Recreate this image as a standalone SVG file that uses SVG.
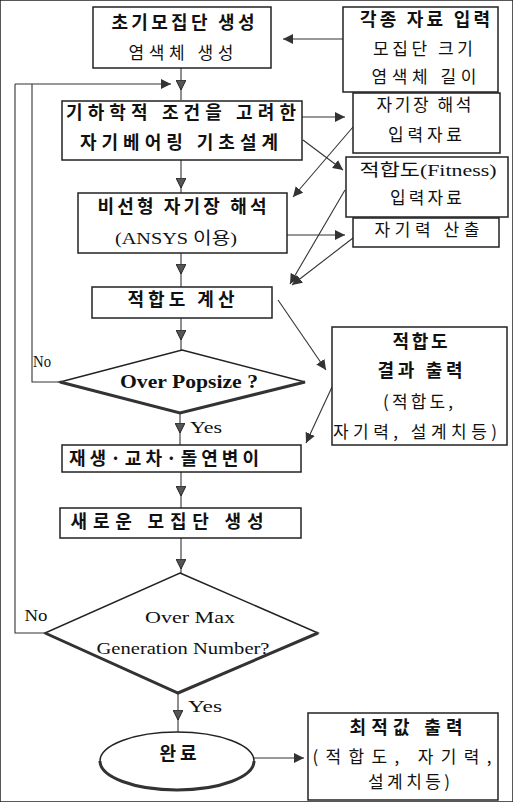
<svg xmlns="http://www.w3.org/2000/svg" width="513" height="802" viewBox="0 0 513 802">
<defs>
<marker id="ah" viewBox="0 0 10 10" refX="10" refY="5" markerWidth="10" markerHeight="10" markerUnits="userSpaceOnUse" orient="auto">
<path d="M0,0 L10,5 L0,10 z" fill="#333"/>
</marker>
<marker id="am" viewBox="0 0 10 10" refX="10" refY="5" markerWidth="10" markerHeight="10" markerUnits="userSpaceOnUse" orient="auto">
<path d="M0,0 L10,5 L0,10 z" fill="#555" stroke="#222" stroke-width="1"/>
</marker>
</defs>
<style>
rect,polygon,ellipse{fill:#fff;stroke:#222;stroke-width:1.5}
.c line,.c polyline{fill:none;stroke:#333;stroke-width:1.1}
.ea{marker-end:url(#ah)}
.ma{marker-mid:url(#am)}
.thick{fill:none;stroke:#333;stroke-width:3}
text{fill:#111;text-anchor:middle}
.kb{font-family:"Noto Sans CJK KR",sans-serif;font-weight:bold;font-size:18px}
.kr{font-family:"Noto Sans CJK KR",sans-serif;font-size:17px}
.mx{font-family:"Liberation Serif","Noto Sans CJK KR",serif;font-size:17px}
.lb{font-family:"Liberation Serif",serif;font-weight:bold;font-size:18px}
.lr{font-family:"Liberation Serif",serif;font-size:17px}
</style>
<rect width="513" height="802" fill="#fff" stroke="none"/>

<g class="c" id="connectors">
<polyline class="ma" points="181,68 181,90 181,100"/>
<polyline points="45,633 15,633 15,84"/>
<polyline points="60,382 32,382 32,84"/>
<line class="ea" x1="15" y1="84" x2="171" y2="84"/>
<polyline class="ma" points="181,160 181,188 181,193"/>
<polyline class="ma" points="181,253 181,274 181,287"/>
<polyline class="ma" points="181,318 181,340 181,350"/>
<polyline class="ma" points="180,413 180,433 180,445"/>
<polyline class="ma" points="181,472 181,496 181,508"/>
<polyline class="ma" points="181,538 181,569 181,574"/>
<polyline class="ma" points="178,693 178,720 178,732"/>
<line class="ea" x1="253" y1="758" x2="304" y2="758"/>
<line class="ea" x1="343" y1="39" x2="283" y2="39"/>
<line class="ea" x1="302" y1="117" x2="345" y2="117"/>
<line class="ea" x1="303" y1="140" x2="343" y2="170"/>
<line class="ea" x1="353" y1="127" x2="293" y2="197"/>
<line class="ea" x1="287" y1="235" x2="345" y2="235"/>
<line class="ea" x1="345" y1="190" x2="290" y2="284"/>
<line class="ea" x1="353" y1="238" x2="292" y2="285"/>
<line class="ea" x1="278" y1="300" x2="326" y2="370"/>
<line class="ea" x1="332" y1="387" x2="306" y2="443"/>
</g>

<g id="n1">
<rect x="93" y="7" width="178" height="61"/>
<text class="kb" x="183" y="29" textLength="143">초기모집단 생성</text>
<text class="kr" x="181" y="59" textLength="105">염색체 생성</text>
</g>
<g id="n2">
<rect x="62" y="101" width="240" height="59"/>
<text class="kb" x="181" y="119" textLength="230">기하학적 조건을 고려한</text>
<text class="kb" x="179" y="149" textLength="198">자기베어링 기초설계</text>
</g>
<g id="n3">
<rect x="78" y="193" width="209" height="60"/>
<text class="kb" x="182" y="213" textLength="169">비선형 자기장 해석</text>
<text class="mx" x="176" y="244" textLength="122" lengthAdjust="spacingAndGlyphs">(ANSYS 이용)</text>
</g>
<g id="n4">
<rect x="92" y="287" width="180" height="31"/>
<text class="kb" x="181" y="306" textLength="107">적합도 계산</text>
</g>
<g id="d1">
<polygon points="182,350 305,382 180,413 60,382"/>
<polyline class="thick" points="60,382 180,413 305,382"/>
<text class="lb" x="189" y="388" textLength="138" lengthAdjust="spacingAndGlyphs">Over Popsize ?</text>
<text class="lr" x="42" y="367" textLength="18" lengthAdjust="spacingAndGlyphs" font-size="15">No</text>
<text class="lr" x="206" y="433" textLength="32" lengthAdjust="spacingAndGlyphs" font-size="15">Yes</text>
</g>
<g id="n5">
<rect x="62" y="445" width="239" height="27"/>
<text class="kb" x="164" y="465" textLength="190">재생·교차·돌연변이</text>
</g>
<g id="n6">
<rect x="60" y="508" width="241" height="30"/>
<text class="kb" x="167" y="528" textLength="193">새로운 모집단 생성</text>
</g>
<g id="d2">
<polygon points="180,573 318,633 178,693 45,633"/>
<polyline class="thick" points="45,633 178,693 318,633"/>
<text class="lr" x="190" y="623" textLength="90" lengthAdjust="spacingAndGlyphs" font-size="18">Over Max</text>
<text class="lr" x="183" y="654" textLength="173" lengthAdjust="spacingAndGlyphs" font-size="18">Generation Number?</text>
<text class="lr" x="36" y="621" textLength="23" lengthAdjust="spacingAndGlyphs" font-size="15">No</text>
<text class="lr" x="205" y="712" textLength="34" lengthAdjust="spacingAndGlyphs" font-size="15">Yes</text>
</g>
<g id="n7">
<ellipse cx="177" cy="761" rx="77" ry="29"/>
<path class="thick" d="M100,761 A77,29 0 0 0 254,761"/>
<text class="kb" x="178" y="760" textLength="37">완료</text>
</g>
<g id="n8">
<rect x="343" y="7" width="155" height="85"/>
<text class="kb" x="425" y="26" textLength="130">각종 자료 입력</text>
<text class="kr" x="423" y="55" textLength="100">모집단 크기</text>
<text class="kr" x="424" y="83" textLength="105">염색체 길이</text>
</g>
<g id="n9">
<rect x="353" y="93" width="147" height="60"/>
<text class="kr" x="424" y="111" textLength="95">자기장 해석</text>
<text class="kr" x="425" y="141" textLength="74">입력자료</text>
</g>
<g id="n10">
<rect x="346" y="157" width="162" height="60"/>
<text class="mx" x="428" y="176" textLength="137" lengthAdjust="spacingAndGlyphs">적합도(Fitness)</text>
<text class="kr" x="426" y="204" textLength="72">입력자료</text>
</g>
<g id="n11">
<rect x="353" y="218" width="146" height="29"/>
<text class="kr" x="427" y="236" textLength="105">자기력 산출</text>
</g>
<g id="n12">
<rect x="332" y="327" width="175" height="118"/>
<text class="kb" x="420" y="348" textLength="55">적합도</text>
<text class="kb" x="420" y="377" textLength="85">결과 출력</text>
<text class="kr" x="418" y="408" textLength="70">(적합도,</text>
<text class="kr" x="415" y="438" textLength="164">자기력, 설계치등)</text>
</g>
<g id="n13">
<rect x="308" y="713" width="190" height="87"/>
<text class="kb" x="406" y="734" textLength="113">최적값 출력</text>
<text class="kr" x="402" y="763" textLength="179">(적합도, 자기력,</text>
<text class="kr" x="409" y="788" textLength="82">설계치등)</text>
</g>
</svg>
